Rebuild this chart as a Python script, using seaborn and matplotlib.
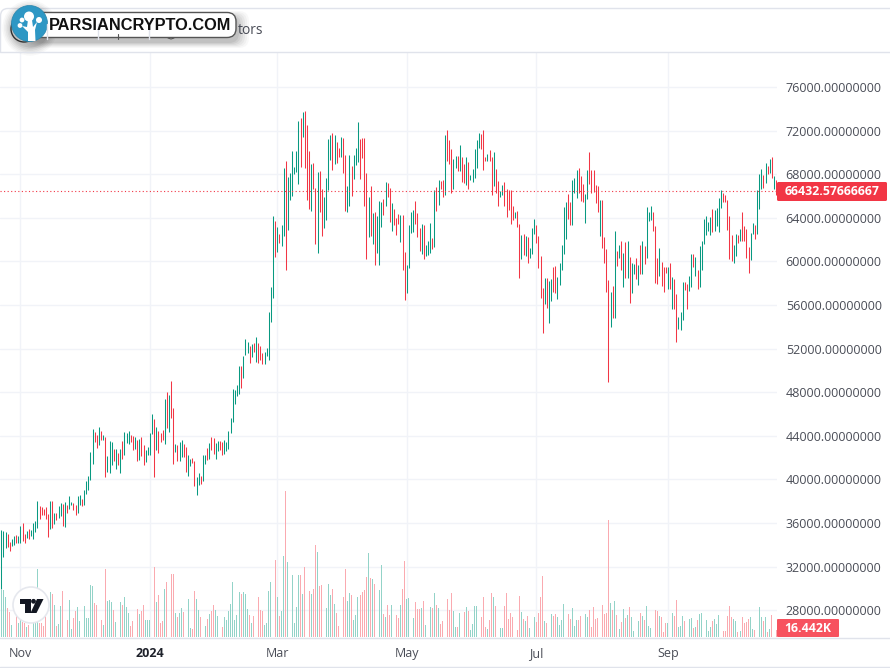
import numpy as np
import pandas as pd
import matplotlib
matplotlib.use('Agg')
import matplotlib.pyplot as plt
import seaborn as sns
from matplotlib.patches import Circle, FancyBboxPatch, PathPatch, Polygon
from matplotlib.path import Path

# --- daily bars ---
START_DATE = '2023-10-23'

highs = [
    35359, 35298, 35175, 34962, 34258, 34533, 34809, 34870, 34809, 35726,
    35991, 34992, 35237, 35450, 35359, 35991, 36185, 38020, 37561, 37469,
    37285, 37469, 36827, 38020, 38020, 36919, 36919, 37561, 37836, 37744,
    37928, 37653, 38478, 37928, 37836, 37653, 38478, 38570, 38203, 39029,
    39854, 40313, 42515, 44625, 44350, 44074, 44808, 44441, 44074, 43891,
    42148, 43524, 43432, 42790, 42790, 42423, 42790, 43524, 44350, 44258,
    44441, 44074, 43983, 43891, 43616, 43707, 43891, 43157, 42698, 42973,
    44258, 46001, 45542, 44808, 44441, 44258, 44533, 47377, 48019, 47744,
    49028, 46551, 43249, 43157, 43432, 43616, 43249, 42973, 42240, 41873,
    41964, 41689, 40221, 40588, 40313, 42240, 42240, 42882, 43340, 43891,
    43799, 43340, 43524, 43524, 43432, 43616, 43432, 44441, 45634, 48294,
    48203, 48661, 50400, 50400, 51322, 52882, 52607, 52240, 52423, 52484,
    53096, 52484, 52240, 51628, 51720, 52056, 55358, 57680, 64165, 63706,
    63156, 62514, 63339, 68569, 69211, 67743, 68110, 70128, 68660, 70128,
    72880, 73156, 73706, 73798, 72513, 70128, 68936, 69027, 66734, 68202,
    68293, 66642, 65908, 67651, 71229, 71596, 71780, 71596, 70954, 70403,
    71413, 71321, 69761, 66917, 69761, 68752, 69761, 70403, 72789, 71229,
    71321, 71321, 68110, 65908, 66917, 64440, 64532, 64165, 65541, 65449,
    65725, 67284, 67193, 66734, 65358, 64807, 63982, 64349, 64257, 64257,
    60862, 59670, 63339, 64532, 64716, 65541, 64440, 63064, 63431, 63339,
    61505, 61872, 63523, 62147, 66550, 66825, 67468, 67376, 67468, 71596,
    72055, 71137, 70312, 69394, 69670, 69670, 70679, 69578, 68936, 69578,
    69119, 67926, 68477, 70312, 71137, 71780, 71688, 72055, 69578, 69853,
    70220, 69578, 70037, 68477, 67376, 66459, 67009, 67284, 66642, 66550,
    66550, 65082, 64532, 64624, 63432, 62423, 62514, 62331, 62239, 61230,
    63065, 63890, 63340, 62331, 60496, 57561, 58478, 58478, 58203, 58386,
    59487, 59579, 58570, 59854, 61505, 64991, 65450, 66184, 65450, 67468,
    67652, 68386, 68569, 67835, 67102, 66184, 68386, 70037, 68386, 68386,
    67010, 66918, 65634, 65634, 62239, 61138, 58294, 57193, 57744, 62790,
    60955, 61505, 61872, 60771, 61780, 61872, 60404, 59854, 59762, 60313,
    59671, 61505, 61872, 61414, 64991, 64533, 65083, 64533, 63248, 60313,
    61230, 59946, 59487, 59487, 59487, 59854, 58570, 58386, 57010, 54900,
    55358, 58111, 58111, 57927, 58662, 60680, 60680, 60404, 59212, 61414,
    61872, 63890, 64166, 63615, 64074, 64808, 64716, 64900, 65817, 66551,
    66276, 66092, 65634, 64166, 62423, 61505, 62514, 62423, 62973, 64533,
    63248, 62973, 61322, 62606, 63524, 63340, 66551, 68019, 68478, 67927,
    69028, 68753, 69395, 69578, 67835, 67468,
]

lows = [
    29945, 32913, 33738, 33830, 33433, 33891, 33983, 34136, 34136, 34197,
    34319, 34197, 34656, 34564, 34809, 34533, 35175, 35573, 36368, 36735,
    36735, 36368, 34747, 35450, 35573, 35940, 36276, 36491, 36674, 35757,
    35665, 36919, 37285, 37653, 37194, 36735, 36919, 37653, 37561, 37653,
    38662, 39029, 39946, 41414, 43432, 42882, 43157, 43616, 43616, 40252,
    40680, 40588, 41322, 41689, 40955, 41322, 40588, 41873, 42240, 43340,
    43249, 43432, 42698, 42790, 41689, 41781, 42148, 41322, 41567, 42240,
    42240, 44166, 40221, 42698, 42423, 43432, 43616, 43249, 44716, 44350,
    45634, 41414, 42515, 41689, 41689, 42056, 42056, 40680, 40313, 41230,
    41506, 39395, 38570, 39487, 39579, 39854, 41414, 41781, 41873, 42698,
    42331, 41873, 42607, 42698, 42240, 42331, 42607, 42790, 44258, 45267,
    46918, 47652, 47806, 48356, 49274, 51414, 51567, 50650, 51200, 51720,
    50800, 50711, 50955, 50588, 50588, 51322, 50955, 54441, 56642, 60404,
    60862, 61688, 61413, 62330, 59211, 62881, 65633, 65999, 68018, 68202,
    67101, 68660, 71413, 68569, 65633, 64807, 64624, 66642, 61596, 60771,
    64532, 62330, 63064, 63798, 66550, 69303, 68385, 68936, 69027, 69578,
    69578, 68110, 64624, 64532, 65082, 65999, 67559, 68844, 69119, 67559,
    69486, 65082, 60220, 62239, 62330, 61596, 59670, 60771, 59670, 63156,
    64257, 65082, 65908, 63615, 62789, 63339, 62422, 63431, 61780, 59211,
    56459, 57101, 59395, 62606, 62697, 63431, 62239, 60954, 60679, 60220,
    60496, 60587, 60771, 61138, 61321, 64624, 65174, 66642, 65908, 66092,
    69211, 68936, 66275, 66642, 68569, 68263, 68324, 67284, 67193, 67009,
    66642, 67468, 67284, 67651, 68569, 70403, 70312, 68385, 69211, 69211,
    69211, 66092, 66917, 66275, 65082, 65908, 66092, 65082, 64073, 64716,
    63431, 63798, 63982, 63156, 58478, 60221, 60588, 60496, 59854, 60313,
    60680, 62514, 61689, 59395, 56643, 53432, 56093, 55726, 54349, 56368,
    57193, 57102, 56551, 57836, 59212, 60680, 62056, 63890, 63340, 63340,
    66276, 65817, 66276, 65542, 65450, 63524, 65725, 67102, 66276, 66368,
    65358, 64533, 62331, 61230, 59854, 57193, 48937, 53983, 54808, 54808,
    59579, 60313, 59212, 57652, 58478, 58478, 56184, 57102, 58845, 58386,
    57836, 58845, 58845, 59762, 60313, 63707, 63799, 62790, 58019, 57927,
    58662, 57744, 57193, 58937, 57469, 57469, 55634, 55634, 52607, 53799,
    53707, 54625, 57377, 55634, 57285, 57652, 59487, 58662, 57469, 57652,
    59212, 61597, 62423, 62790, 62423, 62698, 62790, 63248, 62698, 64900,
    65450, 65450, 62882, 60221, 60038, 59854, 60496, 61689, 61872, 61872,
    61872, 60313, 58937, 60129, 62514, 62056, 62514, 64808, 66643, 66734,
    67193, 68019, 68111, 67652, 66643, 66092,
]

# g = up day, r = down day
direction_rows = [
    'gggrrggrgg', 'rrgrggggrr', 'rrrgrgrggr', 'grggrrggrg', 'ggggrrgrgr',
    'gggrgrgrgg', 'grrgrgrrgg', 'ggrgrrrgrg', 'rrgrggrrgg', 'rrggrggrgr',
    'rggrrggggg', 'gggrgggrgr', 'grrrgggggr', 'grggrggggg', 'grgrrrgrrg',
    'rrggggrgrr', 'grrggrgggr', 'rrrgrgrggg', 'rgrrgrrrgr', 'rggggrrrgr',
    'gggrgrgrrg', 'rrrggrgrrg', 'rgggggrrrg', 'rrgrrggrrr', 'rrgrrgrgrg',
    'ggrrrrgrgg', 'rrgggggrrg', 'ggrrrggrrr', 'rrgrrrrgrg', 'rgrgrgrggr',
    'grgrgggrrr', 'grrrgrgrrg', 'ggrrggrgrg', 'gggggrgggg', 'rrrrrggrgr',
    'rrrggrgggr', 'grgrgr',
]

# volume in thousands
volumes = [
    113, 110, 93, 68, 59, 28, 38, 56, 32, 48,
    36, 32, 24, 28, 24, 32, 32, 160, 32, 34,
    26, 52, 54, 106, 101, 75, 26, 31, 73, 108,
    81, 41, 87, 19, 44, 60, 71, 38, 70, 73,
    45, 45, 122, 120, 81, 75, 70, 40, 28, 160,
    85, 87, 83, 63, 36, 52, 82, 75, 94, 71,
    56, 26, 38, 38, 65, 54, 61, 75, 41, 40,
    41, 115, 164, 83, 99, 32, 38, 113, 129, 167,
    148, 148, 56, 47, 56, 68, 59, 85, 89, 21,
    19, 108, 89, 63, 48, 80, 26, 42, 54, 61,
    75, 63, 49, 19, 23, 48, 40, 62, 78, 129,
    40, 52, 106, 101, 106, 101, 66, 52, 32, 49,
    99, 94, 63, 61, 28, 34, 108, 129, 249, 181,
    94, 49, 61, 190, 343, 176, 94, 146, 33, 70,
    146, 145, 101, 164, 214, 109, 101, 113, 216, 200,
    120, 122, 59, 68, 124, 99, 113, 78, 56, 26,
    35, 94, 160, 85, 103, 99, 40, 52, 94, 99,
    106, 110, 141, 197, 139, 136, 124, 141, 110, 169,
    54, 47, 76, 52, 76, 79, 52, 45,
    75, 113, 179, 89, 92, 54, 45, 82, 66, 66,
    68, 85, 28, 26, 70, 68, 103, 75, 68, 31,
    38, 110, 89, 63, 103, 61, 23, 23, 56, 73,
    59, 70, 61, 16, 31, 73, 73, 70, 47, 94,
    23, 19, 40, 103, 94, 73, 70, 21, 21, 73,
    103, 42, 56, 47, 14, 16, 96, 59, 42, 38,
    49, 21, 28, 47, 35, 56, 94, 143, 38, 33,
    92, 54, 49, 54, 47, 28, 40, 78, 78, 54,
    42, 68, 26, 40, 40, 49, 38, 54, 47, 63,
    23, 70, 42, 45, 66, 75, 54, 56, 275, 80,
    63, 85, 52, 19, 35, 66, 45, 52, 70, 47,
    14, 26, 38, 56, 49, 40, 73, 26, 21, 38,
    63, 61, 49, 47, 12, 33, 33, 35, 56, 49,
    87, 23, 26, 49, 38, 54, 42, 45, 21, 23,
    40, 54, 56, 56, 40, 14, 23, 38, 42, 31,
    52, 40, 14, 14, 49, 73, 47, 42, 38, 12,
    14, 47, 33, 35, 42, 47, 19, 16, 61, 70,
    47, 38, 47, 12, 19, 52, 40, 16.442,
]

price_ticks = [28000, 32000, 36000, 40000, 44000, 48000, 52000, 56000,
               60000, 64000, 68000, 72000, 76000]
date_ticks = ['2023-11-01', '2024-01-01', '2024-03-01', '2024-05-01', '2024-07-01', '2024-09-01']
date_labels = ['Nov', '2024', 'Mar', 'May', 'Jul', 'Sep']
last_price = 66432.57666667
last_volume_label = '16.442K'

directions = list(''.join(direction_rows))
if not (len(highs) == len(lows) == len(directions) == len(volumes)):
    raise ValueError(f'{len(highs)} {len(lows)} {len(directions)} {len(volumes)}')

UP = '#089981'
DOWN = '#f23645'
UP_VOL = '#93d3c8'
DOWN_VOL = '#faaab0'
GRID = '#f1f3f8'
BORDER = '#e0e3eb'
TEXT = '#4a4d57'

# --- tables ---
days = np.arange(len(highs))
bars = pd.DataFrame({'day': days, 'high': highs, 'low': lows, 'direction': directions, 'volume': volumes})
long_bars = bars.melt(id_vars=['day', 'direction'], value_vars=['high', 'low'], value_name='price')
tick_days = (pd.to_datetime(date_ticks) - pd.Timestamp(START_DATE)).days

# --- figure ---
sns.set_theme(style='white')
plt.rcParams['font.family'] = ['Open Sans', 'DejaVu Sans']

W, H = 890, 668
fig = plt.figure(figsize=(W / 100, H / 100), dpi=100, facecolor='white')
ax = fig.add_axes([0, (H - 637) / H, 777 / W, (637 - 52) / H])
ax_vol = ax.twinx()

sns.lineplot(data=long_bars, x='day', y='price', units='day', hue='direction',
             palette={'g': UP, 'r': DOWN}, estimator=None, sort=False,
             linewidth=0.75, legend=False, solid_capstyle='butt', ax=ax)
ax.axhline(last_price, color=DOWN, lw=0.8, ls=(0, (1, 2.2)))

sns.barplot(data=bars, x='day', y='volume', hue='direction', palette={'g': UP_VOL, 'r': DOWN_VOL},
            dodge=False, native_scale=True, width=0.42, errorbar=None, saturation=1,
            legend=False, linewidth=0, ax=ax_vol)

ax.set_xlim(-0.61, 365.4)
ax.set_ylim(25543, 79211)
ax_vol.set_ylim(0, 1375)
ax_vol.set_xlim(-0.61, 365.4)
ax_vol.set_yticks([])
ax_vol.set_ylabel('')
ax.set_xlabel('')
ax.set_ylabel('')

ax.yaxis.tick_right()
ax.set_yticks(price_ticks)
ax.set_yticklabels([f'{p}.00000000' for p in price_ticks])
ax.set_xticks(tick_days)
ax.set_xticklabels(date_labels)
ax.tick_params(axis='y', length=0, pad=6.3, labelsize=9, labelcolor=TEXT)
ax.tick_params(axis='x', length=0, pad=7, labelsize=9, labelcolor=TEXT)
ax.get_xticklabels()[1].set_fontweight('bold')
ax.get_xticklabels()[1].set_color('#1f222b')
ax.grid(True, color=GRID, lw=1)
ax.set_axisbelow(True)

for a in (ax, ax_vol):
    for side in ('left', 'right', 'top', 'bottom'):
        a.spines[side].set_visible(False)

# --- overlay in pixel coordinates: labels, toolbar, logos ---
ov = fig.add_axes([0, 0, 1, 1], zorder=10)
ov.set_xlim(0, W)
ov.set_ylim(H, 0)
ov.axis('off')

ov.plot([0, W], [637.5, 637.5], color=BORDER, lw=1)
ov.plot([0, W], [667, 667], color=BORDER, lw=1)
ov.plot([0, W], [52, 52], color=BORDER, lw=1)
corner = Path([(0.5, 52), (0.5, 16), (0.5, 8.5), (8, 8.5), (W, 8.5)],
              [Path.MOVETO, Path.LINETO, Path.CURVE3, Path.CURVE3, Path.LINETO])
ov.add_patch(PathPatch(corner, fill=False, edgecolor=BORDER, lw=1))

# price and volume tags on the scale
ov.add_patch(FancyBboxPatch((777, 182), 110, 19, boxstyle='round,pad=0,rounding_size=1.5', fc=DOWN, ec='none'))
ov.text(832.5, 191.5, f'{last_price:.8f}', color='white', fontsize=8.8, fontweight='bold', ha='center', va='center')
ov.add_patch(FancyBboxPatch((777, 619), 62, 18, boxstyle='round,pad=0,rounding_size=1', fc='#f7525f', ec='none'))
ov.text(808, 628, last_volume_label, color='white', fontsize=8.8, fontweight='bold', ha='center', va='center')

# what is left of the toolbar around the site logo
ov.add_patch(Circle((24, 29), 13, fc='none', ec='#333333', lw=1))
ov.text(238, 30, 'tors', color=TEXT, fontsize=10, va='center')
for sep_x in (47, 98, 149):
    ov.plot([sep_x, sep_x], [24, 39], color=BORDER, lw=1)
ov.plot([118, 118], [34, 39], color='#555555', lw=0.8)
ov.plot([168, 171, 174], [38, 39, 38], color='#555555', lw=0.8)

# soft shadow of the site logo
for grow, alpha in zip(range(12, 0, -2), [0.03, 0.04, 0.05, 0.06, 0.07, 0.08]):
    ov.add_patch(FancyBboxPatch((34 - grow, 17 - grow / 2), 203 + 2 * grow, 25 + grow,
                                boxstyle='round,pad=0,rounding_size=10', fc='#303030', ec='none', alpha=alpha))
    ov.add_patch(Circle((30, 28), 18 + grow * 0.8, fc='#303030', ec='none', alpha=alpha))
ov.add_patch(FancyBboxPatch((28, 12.5), 208, 25, boxstyle='round,pad=0,rounding_size=9', fc='white', ec='#555555', lw=1))
ov.text(140.5, 26, 'PARSIANCRYPTO.COM', family='Liberation Sans', fontweight='bold', fontsize=11.8,
        color='#111111', ha='center', va='center')
ov.add_patch(Circle((29.5, 23.5), 18, fc='#2e97c4', ec='#2a86ad', lw=0.5))
for cx, cy, r in [(29, 16.5, 5), (22, 20, 2.4), (39, 20, 3), (20, 25.5, 2.4)]:
    ov.add_patch(Circle((cx, cy), r, fc='white', ec='none'))
ov.add_patch(Polygon([(22, 26), (27, 27), (28, 20), (32, 20), (33, 27), (37, 22), (35, 30), (35.5, 41), (28, 41), (28, 32)],
                     closed=True, fc='white', ec='none'))

# TradingView badge
ov.add_patch(Circle((31, 605), 18, fc='white', ec='#e6e8ee', lw=1.2))
ov.add_patch(Polygon([(19.5, 599), (30.5, 599), (30.5, 613), (25, 613), (25, 604), (19.5, 604)], closed=True, fc='#131722', ec='none'))
ov.add_patch(Circle((33.5, 601.3), 2.4, fc='#131722', ec='none'))
ov.add_patch(Polygon([(37, 599), (43.5, 599), (36.5, 613), (30.5, 613)], closed=True, fc='#131722', ec='none'))

fig.savefig('out.png', dpi=100, facecolor='white')
